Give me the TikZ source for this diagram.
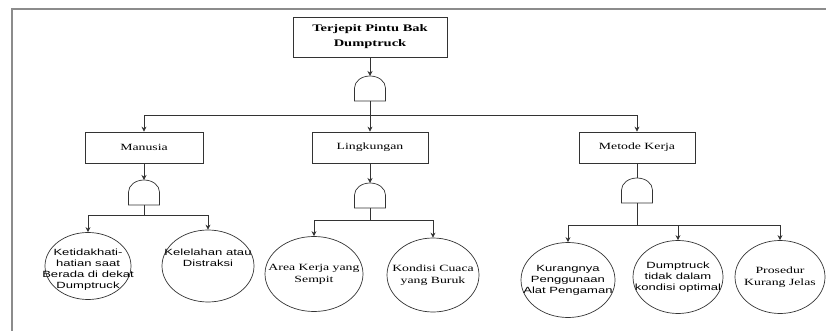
\documentclass[tikz,border=0pt]{standalone}
\usepackage{fontspec}
\setmainfont[FakeStretch=1.45]{Liberation Serif}
\newfontfamily\sansx[FakeStretch=1.45]{Liberation Sans}
\usetikzlibrary{arrows.meta,shapes.geometric}
\tikzset{
  box/.style={draw=black!80, line width=0.7pt, inner sep=0pt, minimum height=31pt, minimum width=117pt, font=\fontsize{9.5}{11}\selectfont},
  ell/.style={draw=black!80, line width=0.7pt, ellipse, inner sep=0pt},
  sertxt/.style={align=center, inner sep=0pt, font=\fontsize{9.5}{12}\selectfont},
  santxt/.style={align=center, inner sep=0pt, font=\sansx\fontsize{9}{11}\selectfont},
  conn/.style={draw=black!80, line width=0.7pt},
  arr/.style={conn, -{Stealth[length=5pt,width=5pt]}},
  framel/.style={draw=black!45, line width=1.6pt},
  gateshape/.style={draw=black!80, line width=0.7pt, fill=white},
  andgate/.pic={
    \path[gateshape] (-15.5,25) -- (-15.5,12) arc[start angle=180,end angle=360,x radius=15.5,y radius=12] -- (15.5,25) -- cycle;
    \coordinate (-top) at (0,0);
    \coordinate (-bot) at (0,25);
  }
}
\begin{document}
\begin{tikzpicture}[x=1pt,y=-1pt]
\useasboundingbox (0,0) rectangle (826,331);
\draw[framel] (826,9) -- (12,9) -- (12,331);

% boxes
\node[box, minimum width=154pt, minimum height=40pt, align=center, font=\bfseries\fontsize{10}{15}\selectfont] (top) at (370,37) {Terjepit Pintu Bak\\Dumptruck};
\node[box, minimum width=118pt] (man) at (144,147.5) {Manusia};
\node[box, minimum width=116pt] (lk) at (370,147.5) {Lingkungan};
\node[box, minimum width=116pt] (met) at (637,147.5) {Metode Kerja};

% gates
\pic (g0) at (370,76) {andgate};
\pic (g1) at (144,180) {andgate};
\pic (g2) at (370,183) {andgate};
\pic (g3) at (637,178) {andgate};

% ellipses
\node[ell, minimum width=86pt, minimum height=67pt] (e1) at (88,266) {};
\node[ell, minimum width=92pt, minimum height=72pt] (e2) at (208,266) {};
\node[ell, minimum width=98pt, minimum height=75pt] (e3) at (314,274) {};
\node[ell, minimum width=92pt, minimum height=74pt] (e4) at (433,275) {};
\node[ell, minimum width=94pt, minimum height=75pt] (e5) at (568,280) {};
\node[ell, minimum width=90pt, minimum height=73pt] (e6) at (678,277) {};
\node[ell, minimum width=90pt, minimum height=73pt] (e7) at (780,277) {};

% ellipse texts
\node[santxt] (t1) at ([yshift=-4pt]e1.center) {Ketidakhati-\\hatian saat\\Berada di dekat\\Dumptruck};
\node[santxt] (t2) at ([yshift=8pt]e2.center) {Kelelahan atau\\Distraksi};
\node[sertxt] (t3) at (e3.center) {Area Kerja yang\\Sempit};
\node[sertxt] (t4) at (e4.center) {Kondisi Cuaca\\yang Buruk};
\node[santxt] (t5) at (e5.center) {Kurangnya\\Penggunaan\\Alat Pengaman};
\node[santxt] (t6) at (e6.center) {Dumptruck\\tidak dalam\\kondisi optimal};
\node[sertxt] (t7) at (e7.center) {Prosedur\\Kurang Jelas};

% junctions
\coordinate (j0) at (370,115);
\coordinate (j1) at (144,215);
\coordinate (j2) at (370,220);
\coordinate (j3) at (637,225);

% connectors
\draw[arr] (top.south) -- (g0-top);
\draw[conn] (g0-bot) -- (j0);
\draw[arr] (j0) -| (man.north);
\draw[arr] (j0) -- (lk.north);
\draw[arr] (j0) -| (met.north);

\draw[arr] (man.south) -- (g1-top);
\draw[conn] (g1-bot) -- (j1);
\draw[arr] (j1) -| (e1.north);
\draw[arr] (j1) -| (e2.north);

\draw[arr] (lk.south) -- (g2-top);
\draw[conn] (g2-bot) -- (j2);
\draw[arr] (j2) -| (e3.north);
\draw[arr] (j2) -| (e4.north);

\draw[conn] (met.south) -- (g3-top);
\draw[conn] (g3-bot) -- (j3);
\draw[arr] (j3) -| (e5.north);
\draw[arr] (j3) -| (e6.north);
\draw[arr] (j3) -| (e7.north);
\end{tikzpicture}
\end{document}
